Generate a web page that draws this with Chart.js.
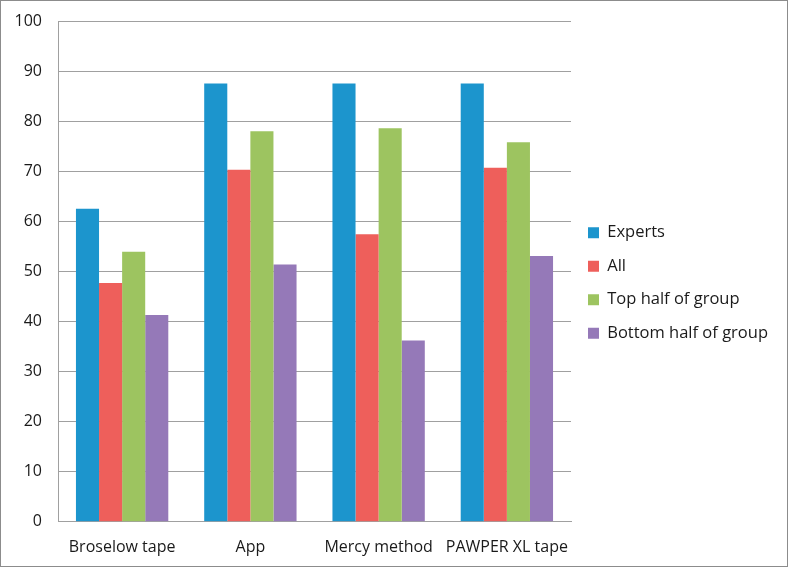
<!DOCTYPE html>
<html>
<head>
<meta charset="utf-8">
<script src="https://cdn.jsdelivr.net/npm/chart.js@4/dist/chart.umd.min.js"></script>
<style>
  body { margin: 0; background: #fff; }
  #wrap { width: 786px; height: 565px; border: 1px solid #8c8c8c; }
</style>
</head>
<body>
<div id="wrap"><canvas id="myBarChart" width="786" height="565"></canvas></div>
<script>
// categories and series
const categories = ["Broselow tape", "App", "Mercy method", "PAWPER XL tape"];
const experts = [62.5, 87.5, 87.5, 87.5];
const all = [47.7, 70.3, 57.4, 70.7];
const topHalf = [53.9, 78, 78.6, 75.8];
const bottomHalf = [41.3, 51.4, 36.2, 53.1];
const yTicks = [0, 10, 20, 30, 40, 50, 60, 70, 80, 90, 100];

// legend on the right is capped to a quarter of the width by default, give it more room
const wideLegend = {
  id: "wideLegend",
  afterInit(chart) {
    const legend = chart.legend;
    const origFit = legend.fit;
    legend.fit = function () {
      this.maxWidth = 210;
      origFit.call(this);
      this.width = 210;
    };
  },
};

const ctx = document.getElementById("myBarChart").getContext("2d");
const myBarChart = new Chart(ctx, {
  type: "bar",
  data: {
    labels: categories,
    datasets: [
      { label: "Experts", data: experts, backgroundColor: "#1c95cd" },
      { label: "All", data: all, backgroundColor: "#ee5f5b" },
      { label: "Top half of group", data: topHalf, backgroundColor: "#9dc460" },
      { label: "Bottom half of group", data: bottomHalf, backgroundColor: "#9579b8" },
    ],
  },
  options: {
    responsive: false,
    animation: false,
    categoryPercentage: 0.72,
    barPercentage: 1,
    layout: { padding: { top: 0, right: 6, left: 0, bottom: 1 } },
    plugins: {
      legend: {
        position: "right",
        labels: {
          font: { family: "Open Sans", size: 16.5 },
          color: "#1a1a1a",
          boxWidth: 11,
          boxHeight: 11,
          padding: 17,
        },
      },
      tooltip: { enabled: false },
    },
    scales: {
      x: {
        grid: { display: false },
        border: { color: "#a0a0a0", width: 1 },
        ticks: {
          font: { family: "Open Sans", size: 16 },
          color: "#1a1a1a",
          padding: 8,
          maxRotation: 0,
        },
      },
      y: {
        min: 0,
        max: 100,
        afterBuildTicks: (axis) => {
          axis.ticks = yTicks.map((v) => ({ value: v }));
        },
        afterFit: (axis) => {
          axis.width = 57;
          axis.paddingTop = 20;
        },
        grid: { color: "#a0a0a0", drawTicks: false },
        border: { color: "#a0a0a0", width: 1 },
        ticks: {
          font: { family: "Open Sans", size: 16 },
          color: "#1a1a1a",
          padding: 16,
        },
      },
    },
  },
  plugins: [wideLegend],
});
</script>
</body>
</html>
